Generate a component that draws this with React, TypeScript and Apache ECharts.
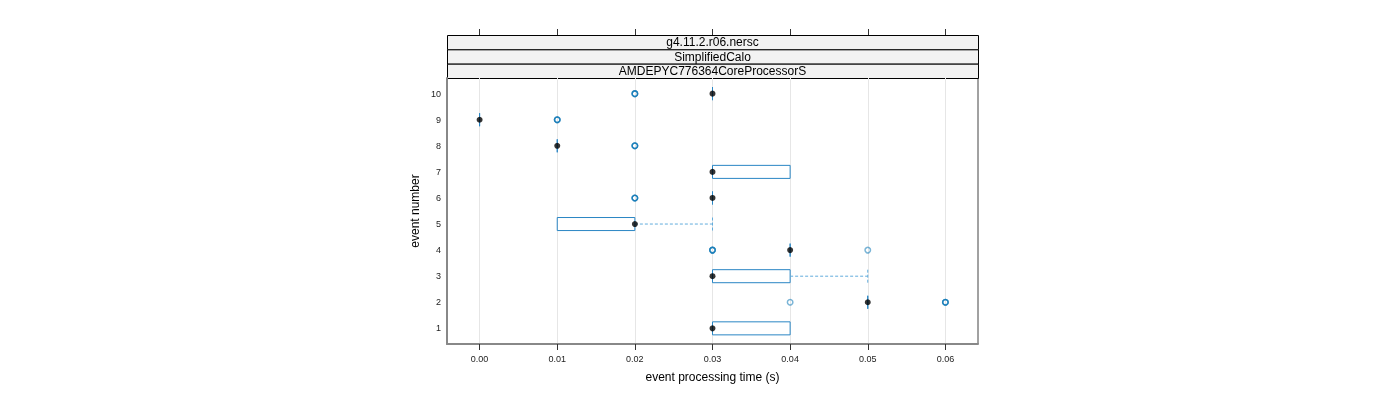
import { useEffect, useRef } from 'react';
import * as echarts from 'echarts';

const events = [1, 2, 3, 4, 5, 6, 7, 8, 9, 10];
const lowerWhisker = [0.03, 0.05, 0.03, 0.04, 0.01, 0.03, 0.03, 0.01, 0.0, 0.03];
const q1 = [0.03, 0.05, 0.03, 0.04, 0.01, 0.03, 0.03, 0.01, 0.0, 0.03];
const median = [0.03, 0.05, 0.03, 0.04, 0.02, 0.03, 0.03, 0.01, 0.0, 0.03];
const q3 = [0.04, 0.05, 0.04, 0.04, 0.02, 0.03, 0.04, 0.01, 0.0, 0.03];
const upperWhisker = [0.04, 0.05, 0.05, 0.04, 0.03, 0.03, 0.04, 0.01, 0.0, 0.03];
const outliers: number[][] = [
  [],
  [0.04, 0.06, 0.06, 0.06],
  [],
  [0.03, 0.03, 0.03, 0.05],
  [],
  [0.02, 0.02, 0.02],
  [],
  [0.02, 0.02, 0.02],
  [0.01, 0.01, 0.01],
  [0.02, 0.02, 0.02],
];
const xTicks = [0, 0.01, 0.02, 0.03, 0.04, 0.05, 0.06];
const yTicks = events;
const stripLabels = ['g4.11.2.r06.nersc', 'SimplifiedCalo', 'AMDEPYC776364CoreProcessorS'];
const xTitle = 'event processing time (s)';
const yTitle = 'event number';

const BOX_COLOR = '#2a86c4';
const WHISKER_COLOR = '#62acdc';
const FONT = '"Liberation Sans", Arial, sans-serif';

export default function App() {
  const ref = useRef<HTMLDivElement>(null);

  useEffect(() => {
    if (!ref.current) return;
    const chart = echarts.init(ref.current, undefined, { renderer: 'svg' });

    const gridLeft = 447;
    const gridTop = 78;
    const gridWidth = 531;
    const gridHeight = 266;
    const stripTop = 35;
    const stripH = (gridTop - stripTop) / stripLabels.length;

    const boxData = events.map((e, i) => [e, lowerWhisker[i], q1[i], median[i], q3[i], upperWhisker[i]]);
    const medianData = events.map((e, i) => [median[i], e]);
    const outlierData: number[][] = [];
    events.forEach((e, i) => outliers[i].forEach((v) => outlierData.push([v, e])));

    const graphics: any[] = [];
    stripLabels.forEach((label, i) => {
      graphics.push({
        type: 'rect',
        shape: { x: gridLeft + 0.5, y: stripTop + i * stripH + 0.5, width: gridWidth, height: stripH },
        style: { fill: '#f2f2f2', stroke: '#000', lineWidth: 1 },
        silent: true,
      });
      graphics.push({
        type: 'text',
        x: gridLeft + gridWidth / 2,
        y: stripTop + i * stripH + stripH / 2,
        style: {
          text: label,
          fill: '#000',
          font: `12px ${FONT}`,
          align: 'center',
          verticalAlign: 'middle',
        },
        silent: true,
      });
    });

    const option: any = {
      animation: false,
      textStyle: { fontFamily: FONT },
      grid: {
        left: gridLeft,
        top: gridTop,
        width: gridWidth,
        height: gridHeight,
        show: true,
        borderColor: '#444',
        borderWidth: 1,
        backgroundColor: 'transparent',
      },
      xAxis: [
        {
          type: 'value',
          min: -0.0042,
          max: 0.0642,
          position: 'bottom',
          name: xTitle,
          nameLocation: 'middle',
          nameGap: 27,
          nameTextStyle: { fontSize: 12, color: '#000', fontFamily: FONT },
          axisLine: { show: true, onZero: false, lineStyle: { color: '#888', width: 2 } },
          axisTick: { show: true, length: 6, customValues: xTicks, lineStyle: { color: '#333' } },
          axisLabel: {
            show: true,
            customValues: xTicks,
            formatter: (v: number) => v.toFixed(2),
            fontSize: 9,
            color: '#222',
            margin: 10,
            fontFamily: FONT,
          },
          splitLine: { show: true, lineStyle: { color: '#e6e6e6', width: 1 } },
        },
        {
          type: 'value',
          min: -0.0042,
          max: 0.0642,
          position: 'top',
          offset: gridTop - stripTop,
          axisLine: { show: false, onZero: false },
          axisTick: { show: true, length: 6, customValues: xTicks, lineStyle: { color: '#333' } },
          axisLabel: { show: false },
          splitLine: { show: false },
        },
      ],
      yAxis: {
        type: 'value',
        min: 0.4,
        max: 10.6,
        name: yTitle,
        nameLocation: 'middle',
        nameGap: 26,
        nameTextStyle: { fontSize: 12, color: '#000', fontFamily: FONT },
        axisLine: { show: true, onZero: false, lineStyle: { color: '#888', width: 2 } },
        axisTick: { show: false, customValues: yTicks },
        axisLabel: {
          show: true,
          customValues: yTicks,
          fontSize: 9,
          color: '#222',
          margin: 6,
          fontFamily: FONT,
        },
        splitLine: { show: false },
      },
      graphic: graphics,
      series: [
        {
          type: 'custom',
          xAxisIndex: 0,
          data: boxData,
          encode: { x: [1, 2, 3, 4, 5], y: 0 },
          renderItem: (params: any, api: any) => {
            const y = api.value(0);
            const lw = api.value(1);
            const lq = api.value(2);
            const uq = api.value(4);
            const uw = api.value(5);
            const half = api.size([0, 0.25])[1];
            const pLw = api.coord([lw, y]);
            const pQ1 = api.coord([lq, y]);
            const pQ3 = api.coord([uq, y]);
            const pUw = api.coord([uw, y]);
            const cy = pQ1[1];
            const children: any[] = [
              {
                type: 'polygon',
                shape: {
                  points: [
                    [pQ1[0], cy - half],
                    [pQ3[0], cy - half],
                    [pQ3[0], cy + half],
                    [pQ1[0], cy + half],
                  ],
                },
                style: { fill: 'none', stroke: BOX_COLOR, lineWidth: 1 },
              },
            ];
            const dashed = { stroke: WHISKER_COLOR, lineWidth: 1, lineDash: [3, 2] };
            if (lw < lq) {
              children.push({ type: 'line', shape: { x1: pLw[0], y1: cy, x2: pQ1[0], y2: cy }, style: dashed });
              children.push({ type: 'line', shape: { x1: pLw[0], y1: cy - half, x2: pLw[0], y2: cy + half }, style: dashed });
            }
            if (uw > uq) {
              children.push({ type: 'line', shape: { x1: pQ3[0], y1: cy, x2: pUw[0], y2: cy }, style: dashed });
              children.push({ type: 'line', shape: { x1: pUw[0], y1: cy - half, x2: pUw[0], y2: cy + half }, style: dashed });
            }
            return { type: 'group', children };
          },
          z: 2,
        },
        {
          type: 'scatter',
          xAxisIndex: 0,
          data: outlierData,
          symbol: 'circle',
          symbolSize: 5.5,
          itemStyle: { color: 'none', borderColor: 'rgba(0,114,178,0.65)', borderWidth: 1.5 },
          z: 3,
        },
        {
          type: 'scatter',
          xAxisIndex: 0,
          data: medianData,
          symbol: 'circle',
          symbolSize: 6,
          itemStyle: { color: '#000' },
          z: 4,
        },
      ],
    };

    chart.setOption(option);
    return () => chart.dispose();
  }, []);

  return <div ref={ref} style={{ position: 'fixed', left: 0, top: 0, width: 1400, height: 400 }} />;
}
